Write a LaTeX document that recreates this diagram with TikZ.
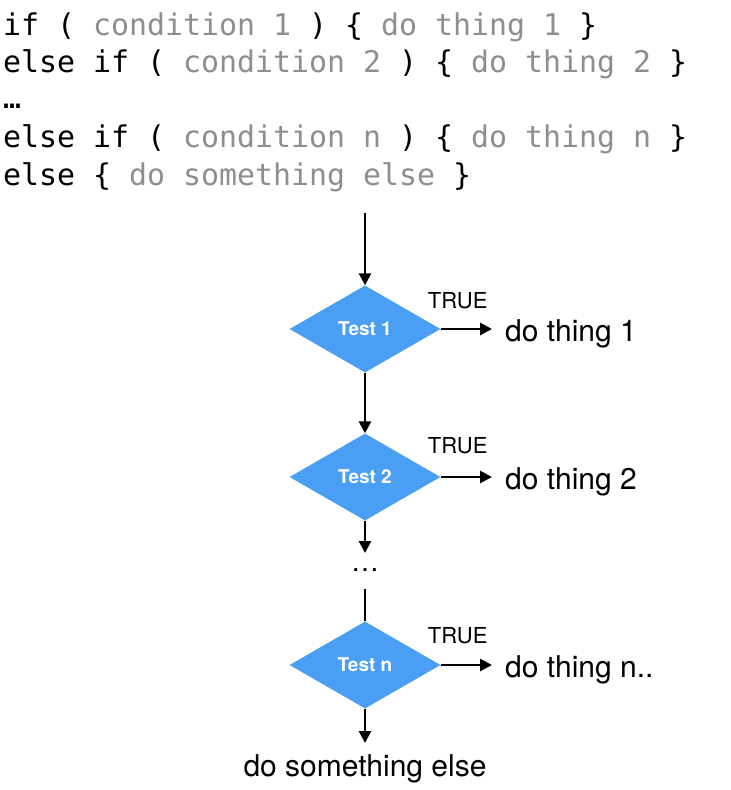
\documentclass[tikz,border=0pt]{standalone}
\usepackage{fontspec}
\setmainfont{TeX Gyre Heros}
\newfontfamily\codefont{DejaVu Sans Mono}
\usetikzlibrary{shapes.geometric,arrows.meta}
\definecolor{testblue}{RGB}{74,159,245}
\definecolor{codegray}{RGB}{142,142,142}
\tikzset{
  codeline/.style={anchor=base west,inner sep=0pt,font=\codefont\fontsize{29.9}{30}\selectfont},
  test/.style={diamond,fill=testblue,inner sep=0pt,minimum width=151pt,minimum height=87pt,
    text=white,font=\bfseries\fontsize{19}{20}\selectfont},
  arr/.style={line width=2.7pt,-{Triangle[length=12pt,width=12pt]}},
  plain/.style={line width=2.7pt},
  outtext/.style={anchor=west,inner ysep=0pt,inner xsep=13pt,text height=25.4pt,text depth=0pt,
    font=\fontsize{30}{31}\selectfont},
  truelab/.style={anchor=base west,inner sep=0pt,font=\fontsize{22}{23}\selectfont},
}
\newcommand{\cg}[1]{\textcolor{codegray}{#1}}
\begin{document}
\begin{tikzpicture}[x=1pt,y=-1pt]
\useasboundingbox (0,0) rectangle (731,790);
% code
\node[codeline] (c1) at (3,35) {if ( \cg{condition 1} ) \{ \cg{do thing 1} \}};
\node[codeline] (c2) at (3,72.5) {else if ( \cg{condition 2} ) \{ \cg{do thing 2} \}};
\node[codeline] (c3) at (3,108) {…};
\node[codeline] (c4) at (3,147.5) {else if ( \cg{condition n} ) \{ \cg{do thing n} \}};
\node[codeline] (c5) at (3,185) {else \{ \cg{do something else} \}};
% flowchart
\coordinate (start) at (365,213);
\node[test] (d1) at (365,329) {Test 1};
\node[test] (d2) at (365,477) {Test 2};
\node[test] (dn) at (365,665) {Test n};
\coordinate (d2end) at (365,553);
\node[inner sep=0pt,font=\fontsize{28}{29}\selectfont] (dots) at (365,570) {…};
\coordinate (dotsend) at (365,589);
\coordinate (elseend) at (365,743);
\node[inner sep=0pt,font=\fontsize{30}{31}\selectfont] (else) at (365,769) {do something else};
\node[outtext] (t1) at (492,329) {do thing 1};
\node[outtext] (t2) at (492,477) {do thing 2};
\node[outtext] (tn) at (492,665) {do thing n..};
\draw[arr] (start) -- (d1.north);
\draw[arr] (d1.south) -- (d2.north);
\draw[arr] (d2.south) -- (d2end);
\draw[plain] (dotsend) -- (dn.north);
\draw[arr] (dn.south) -- (elseend);
\draw[arr] (d1.east) -- (t1.west);
\draw[arr] (d2.east) -- (t2.west);
\draw[arr] (dn.east) -- (tn.west);
\node[truelab] (l1) at ([xshift=-13pt,yshift=21pt]d1.east) {TRUE};
\node[truelab] (l2) at ([xshift=-13pt,yshift=24pt]d2.east) {TRUE};
\node[truelab] (ln) at ([xshift=-13pt,yshift=22pt]dn.east) {TRUE};
\end{tikzpicture}
\end{document}
